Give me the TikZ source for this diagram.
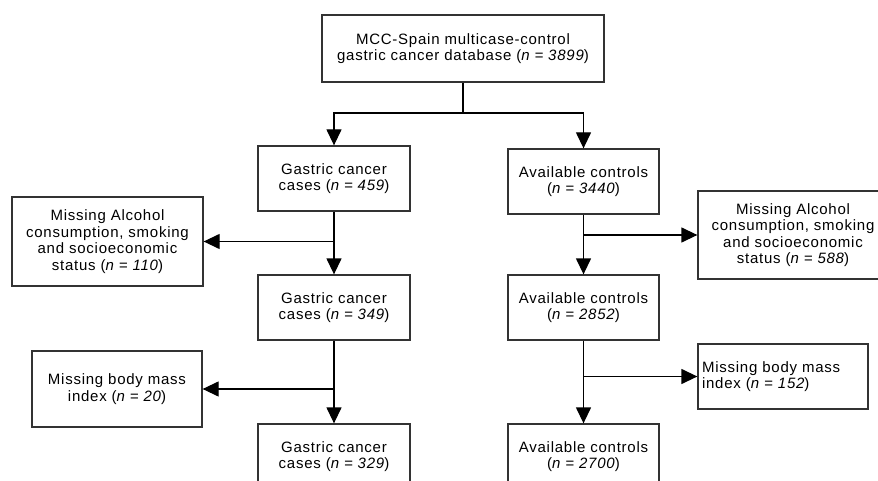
\documentclass[tikz,border=0pt]{standalone}
\usepackage{fontspec}
\setmainfont[LetterSpace=5]{Liberation Sans}
\usetikzlibrary{arrows.meta}
\begin{document}
\begin{tikzpicture}[x=1pt,y=-1pt,
  box/.style={draw=black!80, line width=1.3pt, fill=white, align=center, inner sep=0pt,
    font=\fontsize{15}{16.5}\selectfont},
  arr/.style={line width=1.3pt, -{Triangle[length=16pt,width=15pt]}},
  ln/.style={line width=1.3pt}]
\clip (0,0) rectangle (878,481);
\fill[white] (0,0) rectangle (878,481);
\node[box, minimum width=282pt, minimum height=67pt] (top) at (463,48.5)
  {MCC-Spain multicase-control\\gastric cancer database ({\itshape n = 3899})};
\node[box, minimum width=152pt, minimum height=65pt] (g1) at (334,178.5)
  {Gastric cancer\\cases ({\itshape n = 459})};
\node[box, minimum width=151pt, minimum height=65pt] (c1) at (583.5,181.5)
  {Available controls\\({\itshape n = 3440})};
\node[box, minimum width=191pt, minimum height=89pt] (ml1) at (107.5,241.5)
  {Missing Alcohol\\consumption, smoking\\and socioeconomic\\status ({\itshape n = 110})};
\node[box, minimum width=190pt, minimum height=88pt] (mr1) at (793,235)
  {Missing Alcohol\\consumption, smoking\\and socioeconomic\\status ({\itshape n = 588})};
\node[box, minimum width=152pt, minimum height=65pt] (g2) at (334,307.5)
  {Gastric cancer\\cases ({\itshape n = 349})};
\node[box, minimum width=151pt, minimum height=65pt] (c2) at (583.5,307.5)
  {Available controls\\({\itshape n = 2852})};
\node[box, minimum width=170pt, minimum height=76pt] (mbl) at (117,389)
  {Missing body mass\\index ({\itshape n = 20})};
\node[box, minimum width=170pt, minimum height=65pt, align=left, text width=162pt] (mbr) at (783,376.5)
  {Missing body mass\\index ({\itshape n = 152})};
\node[box, minimum width=152pt, minimum height=65pt] (g3) at (334,456.5)
  {Gastric cancer\\cases ({\itshape n = 329})};
\node[box, minimum width=151pt, minimum height=65pt] (c3) at (583.5,456.5)
  {Available controls\\({\itshape n = 2700})};
\coordinate (s) at (463,113);
\draw[ln] (top.south) -- (s);
\draw[arr] (s) -| (g1.north);
\draw[arr] (s) -| (c1.north);
\draw[arr] (g1) -- (g2);
\draw[arr] (g1.south |- ml1.east) -- (ml1.east);
\draw[arr] (c1) -- (c2);
\draw[arr] (c1.south |- mr1.west) -- (mr1.west);
\draw[arr] (g2) -- (g3);
\draw[arr] (g2.south |- mbl.east) -- (mbl.east);
\draw[arr] (c2) -- (c3);
\draw[arr] (c2.south |- mbr.west) -- (mbr.west);
\end{tikzpicture}
\end{document}
